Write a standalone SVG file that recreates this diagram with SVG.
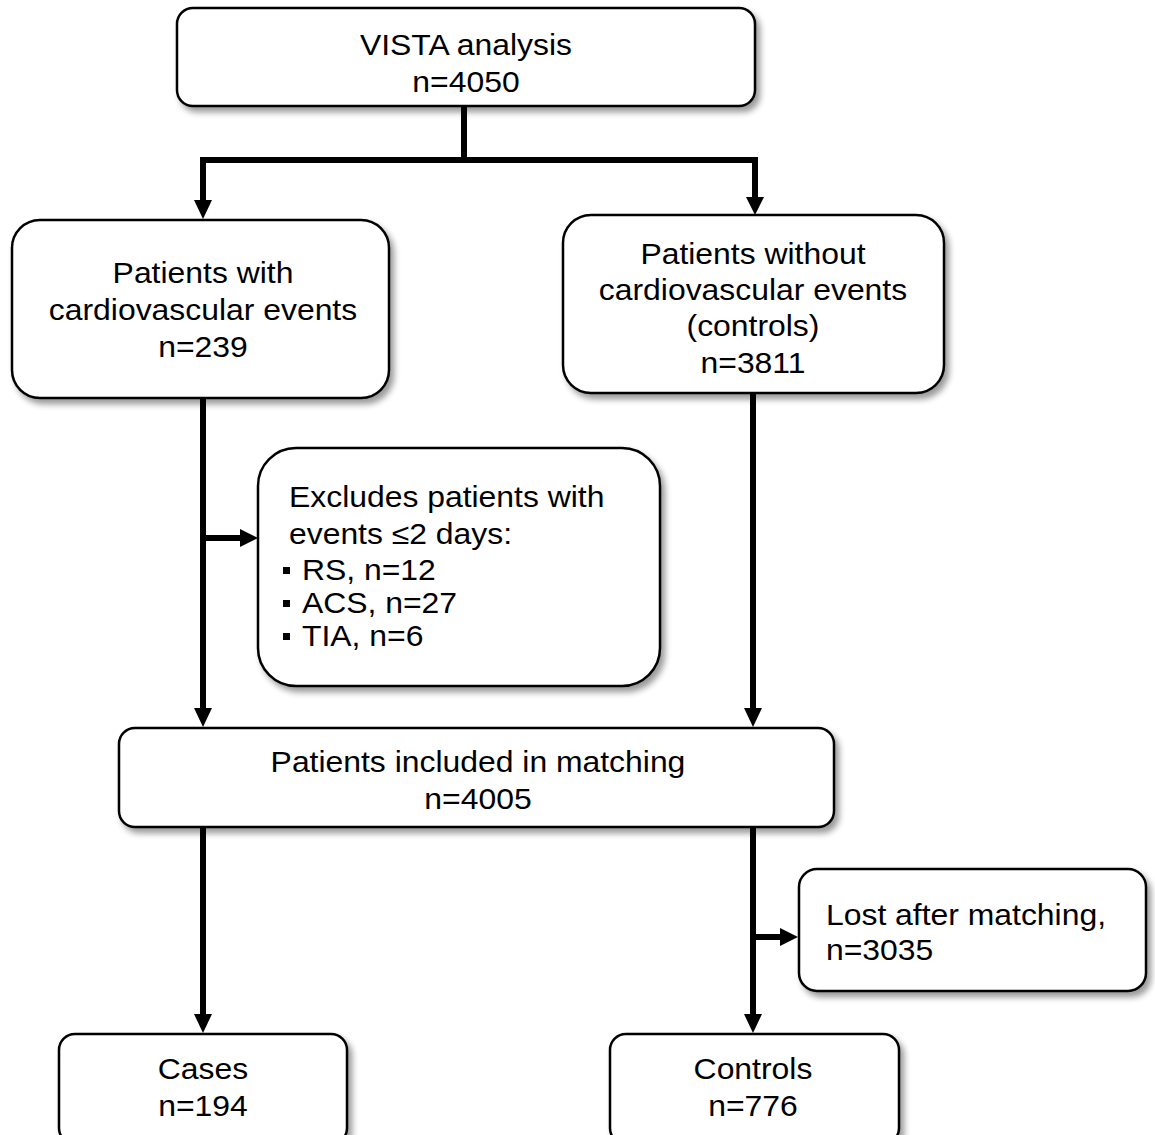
<svg xmlns="http://www.w3.org/2000/svg" width="1155" height="1135" viewBox="0 0 1155 1135">
  <style>
    .box { fill: #ffffff; stroke: #000000; stroke-width: 2.5; filter: url(#shadow); }
    .t { font-family: "Liberation Sans", Arial, sans-serif; font-size: 29px; fill: #000000;
         transform-box: fill-box; transform: scaleX(1.1); transform-origin: left center; }
    .c { text-anchor: middle; transform-origin: center; }
    .link { fill: none; stroke: #000000; stroke-width: 6; }
  </style>
  <defs>
    <filter id="shadow" x="-10%" y="-10%" width="125%" height="130%">
      <feGaussianBlur in="SourceAlpha" stdDeviation="3"/>
      <feOffset dx="4" dy="5" result="blur"/>
      <feComponentTransfer><feFuncA type="linear" slope="0.4"/></feComponentTransfer>
      <feMerge><feMergeNode/><feMergeNode in="SourceGraphic"/></feMerge>
    </filter>
  </defs>
  <rect width="1155" height="1135" fill="#ffffff"/>

  <!-- connectors: trunk lines with solid triangular heads -->
  <g id="connectors">
    <path class="link" d="M464 106 V160 M203 160 H755 M203 157 V202 M755 157 V200"/>
    <polygon points="194,200 212,200 203,219"/>
    <polygon points="746,197 764,197 755,215"/>
    <path class="link" d="M203 398 V710 M203 538 H242"/>
    <polygon points="240,529 240,547 258,538"/>
    <polygon points="194,708 212,708 203,727"/>
    <path class="link" d="M753 393 V710"/>
    <polygon points="744,708 762,708 753,727"/>
    <path class="link" d="M203 827 V1016"/>
    <polygon points="194,1014 212,1014 203,1033"/>
    <path class="link" d="M753 827 V1016 M753 937 H782"/>
    <polygon points="780,928 780,946 798,937"/>
    <polygon points="744,1014 762,1014 753,1033"/>
  </g>

  <g id="vista">
    <rect class="box" x="177" y="8" width="578" height="98" rx="16"/>
    <text class="t c" x="466" y="55">VISTA analysis</text>
    <text class="t c" x="466" y="92">n=4050</text>
  </g>

  <g id="with-events">
    <rect class="box" x="12" y="220" width="377" height="178" rx="28"/>
    <text class="t c" x="203" y="283">Patients with</text>
    <text class="t c" x="203" y="320">cardiovascular events</text>
    <text class="t c" x="203" y="357">n=239</text>
  </g>

  <g id="without-events">
    <rect class="box" x="563" y="215" width="381" height="178" rx="28"/>
    <text class="t c" x="753" y="264">Patients without</text>
    <text class="t c" x="753" y="300">cardiovascular events</text>
    <text class="t c" x="753" y="336">(controls)</text>
    <text class="t c" x="753" y="373">n=3811</text>
  </g>

  <g id="excluded">
    <rect class="box" x="258" y="448" width="402" height="238" rx="38"/>
    <text class="t" x="289" y="507">Excludes patients with</text>
    <text class="t" x="289" y="544">events ≤2 days:</text>
    <rect x="283" y="567" width="7" height="7"/>
    <text class="t" x="302" y="580">RS, n=12</text>
    <rect x="283" y="600" width="7" height="7"/>
    <text class="t" x="302" y="613">ACS, n=27</text>
    <rect x="283" y="633" width="7" height="7"/>
    <text class="t" x="302" y="646">TIA, n=6</text>
  </g>

  <g id="matching">
    <rect class="box" x="119" y="728" width="715" height="99" rx="16"/>
    <text class="t c" x="478" y="772">Patients included in matching</text>
    <text class="t c" x="478" y="809">n=4005</text>
  </g>

  <g id="lost">
    <rect class="box" x="799" y="869" width="347" height="122" rx="18"/>
    <text class="t" x="826" y="925">Lost after matching,</text>
    <text class="t" x="826" y="960">n=3035</text>
  </g>

  <g id="cases">
    <rect class="box" x="59" y="1034" width="288" height="110" rx="16"/>
    <text class="t c" x="203" y="1079">Cases</text>
    <text class="t c" x="203" y="1116">n=194</text>
  </g>

  <g id="controls">
    <rect class="box" x="610" y="1034" width="289" height="110" rx="16"/>
    <text class="t c" x="753" y="1079">Controls</text>
    <text class="t c" x="753" y="1116">n=776</text>
  </g>
</svg>
